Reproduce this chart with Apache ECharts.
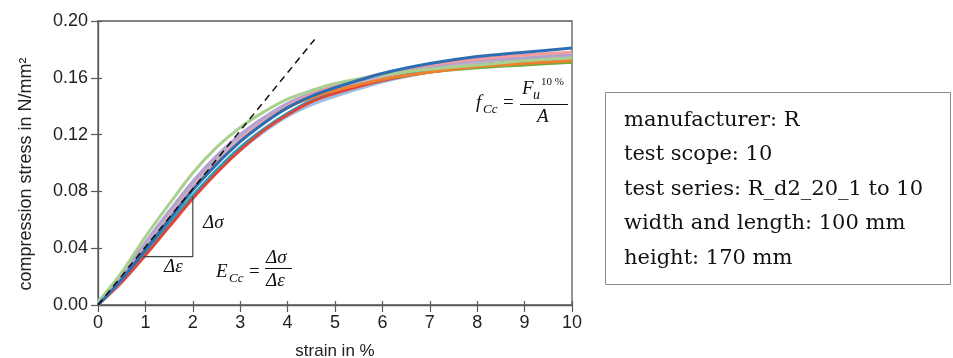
<!DOCTYPE html>
<html>
<head>
<meta charset="utf-8">
<script src="https://cdn.jsdelivr.net/npm/echarts@6/dist/echarts.min.js"></script>
<style>
  html, body { margin: 0; padding: 0; background: #fff; }
  #chart { width: 953px; height: 358px; }
</style>
</head>
<body>
<div id="chart"></div>
<script>
// strain sample points in %
const strain = [0, 0.5, 1, 1.5, 2, 2.5, 3, 3.5, 4, 4.5, 5, 6, 7, 8, 9, 10];

// compression stress (N/mm²) for the ten specimens R_d2_20_1 … R_d2_20_10
const specimenNames = ['R_d2_20_1', 'R_d2_20_2', 'R_d2_20_3', 'R_d2_20_4', 'R_d2_20_5',
                       'R_d2_20_6', 'R_d2_20_7', 'R_d2_20_8', 'R_d2_20_9', 'R_d2_20_10'];
const s1  = [0.003, 0.018, 0.038, 0.057, 0.077, 0.094, 0.109, 0.122, 0.133, 0.141, 0.147, 0.157, 0.164, 0.169, 0.172, 0.175];
const s2  = [0.000, 0.017, 0.037, 0.057, 0.077, 0.095, 0.111, 0.124, 0.135, 0.144, 0.150, 0.159, 0.165, 0.169, 0.172, 0.173];
const s3  = [0.000, 0.016, 0.035, 0.055, 0.075, 0.093, 0.109, 0.123, 0.134, 0.143, 0.149, 0.158, 0.164, 0.168, 0.171, 0.173];
const s4  = [0.000, 0.020, 0.043, 0.064, 0.085, 0.103, 0.118, 0.130, 0.140, 0.147, 0.152, 0.159, 0.164, 0.167, 0.169, 0.171];
const s5  = [0.000, 0.019, 0.041, 0.063, 0.084, 0.102, 0.117, 0.129, 0.139, 0.146, 0.151, 0.159, 0.164, 0.168, 0.170, 0.172];
const s6  = [0.001, 0.019, 0.042, 0.063, 0.084, 0.102, 0.118, 0.131, 0.141, 0.148, 0.153, 0.161, 0.167, 0.171, 0.174, 0.176];
const s7  = [0.001, 0.021, 0.044, 0.066, 0.087, 0.105, 0.120, 0.132, 0.142, 0.149, 0.154, 0.162, 0.168, 0.172, 0.174, 0.176];
const s8  = [0.000, 0.018, 0.040, 0.061, 0.082, 0.100, 0.116, 0.129, 0.140, 0.148, 0.154, 0.163, 0.169, 0.173, 0.176, 0.178];
const s9  = [0.002, 0.023, 0.048, 0.071, 0.093, 0.111, 0.125, 0.136, 0.145, 0.151, 0.156, 0.162, 0.166, 0.169, 0.172, 0.174];
const s10 = [0.000, 0.018, 0.039, 0.060, 0.081, 0.099, 0.115, 0.128, 0.139, 0.147, 0.153, 0.163, 0.170, 0.175, 0.178, 0.181];
const specimens = [s1, s2, s3, s4, s5, s6, s7, s8, s9, s10];
const specimenColors = ['#9dbfe4', '#1fa3b8', '#e0453c', '#6aab3f', '#f08030',
                        '#c8b2c8', '#b3a2d0', '#ef9c9c', '#a9d08e', '#2c6db3'];

// initial tangent used for the modulus E_Cc
const tangentStrain = [0, 4.57];
const tangentStress = [0, 0.187];

// slope triangle Δε / Δσ
const triStrain = [0.95, 2, 2];
const triStress = [0.034, 0.034, 0.0765];

// axis ticks
const xTicks = [0, 1, 2, 3, 4, 5, 6, 7, 8, 9, 10];
const yTicks = ['0.00', '0.04', '0.08', '0.12', '0.16', '0.20'];

const infoLines = [
  'manufacturer: R',
  'test scope: 10',
  'test series: R_d2_20_1 to 10',
  'width and length: 100 mm',
  'height: 170 mm'
];

const chart = echarts.init(document.getElementById('chart'), null, { renderer: 'canvas' });

const axisColor = '#595959';
const sans = 'Liberation Sans, Arial, sans-serif';
const serif = 'Liberation Serif, DejaVu Serif, serif';
const boxSerif = 'DejaVu Serif, Liberation Serif, serif';

const series = specimens.map((ys, k) => ({
  name: specimenNames[k],
  type: 'line',
  data: strain.map((x, i) => [x, ys[i]]),
  smooth: 0.3,
  showSymbol: false,
  lineStyle: { color: specimenColors[k], width: 3 },
  z: 2 + k
}));

series.push({
  name: 'tangent',
  type: 'line',
  data: tangentStrain.map((x, i) => [x, tangentStress[i]]),
  showSymbol: false,
  lineStyle: { color: '#111', width: 1.5, type: [7, 5] },
  z: 20
});
series.push({
  name: 'triangle',
  type: 'line',
  data: triStrain.map((x, i) => [x, triStress[i]]),
  showSymbol: false,
  lineStyle: { color: '#444', width: 1.2 },
  z: 20
});

const option = {
  animation: false,
  backgroundColor: '#fff',
  grid: {
    left: 98, right: 381, top: 21, bottom: 53,
    outerBoundsMode: 'none', containLabel: false,
    show: true, borderColor: axisColor, borderWidth: 1.3
  },
  xAxis: [{
    type: 'value', min: 0, max: 10, interval: 1,
    name: 'strain in %', nameLocation: 'middle', nameGap: 38,
    nameTextStyle: { fontFamily: sans, fontSize: 17, color: '#222' },
    axisLine: { show: true, lineStyle: { color: axisColor, width: 1.3 } },
    axisTick: { show: true, inside: false, length: 7, lineStyle: { color: axisColor, width: 1.2 } },
    axisLabel: { fontFamily: sans, fontSize: 18, color: '#222', margin: 9,
                 formatter: v => String(xTicks[Math.round(v)]) },
    splitLine: { show: false }
  }, {
    type: 'value', min: 0, max: 10, interval: 1, position: 'bottom',
    axisLine: { show: false },
    axisTick: { show: true, inside: true, length: 4, lineStyle: { color: axisColor, width: 1.2 } },
    axisLabel: { show: false }, splitLine: { show: false }
  }],
  yAxis: [{
    type: 'value', min: 0, max: 0.2, interval: 0.04,
    name: 'compression stress in N/mm²', nameLocation: 'middle', nameGap: 63,
    nameTextStyle: { fontFamily: sans, fontSize: 18, color: '#222', padding: [0, 22, 0, 0] },
    axisLine: { show: true, lineStyle: { color: axisColor, width: 1.3 } },
    axisTick: { show: true, inside: false, length: 7, lineStyle: { color: axisColor, width: 1.2 } },
    axisLabel: { fontFamily: sans, fontSize: 18, color: '#222', margin: 10,
                 formatter: v => yTicks[Math.round(v / 0.04)] },
    splitLine: { show: false }
  }, {
    type: 'value', min: 0, max: 0.2, interval: 0.04, position: 'left',
    axisLine: { show: false },
    axisTick: { show: true, inside: true, length: 4, lineStyle: { color: axisColor, width: 1.2 } },
    axisLabel: { show: false }, splitLine: { show: false }
  }],
  series: series,
  graphic: [
    // Δσ and Δε beside the slope triangle
    { type: 'text', left: 203, top: 213, z: 30,
      style: { text: 'Δσ', font: 'italic 19px ' + serif, fill: '#111' } },
    { type: 'text', left: 164, top: 257, z: 30,
      style: { text: 'Δε', font: 'italic 19px ' + serif, fill: '#111' } },
    // E_Cc = Δσ / Δε
    { type: 'text', left: 216, top: 262, z: 30,
      style: { text: 'E', font: 'italic 19px ' + serif, fill: '#111' } },
    { type: 'text', left: 229, top: 272, z: 30,
      style: { text: 'Cc', font: 'italic 13px ' + serif, fill: '#111' } },
    { type: 'text', left: 249, top: 263, z: 30,
      style: { text: '=', font: '19px ' + serif, fill: '#111' } },
    { type: 'text', left: 266, top: 248, z: 30,
      style: { text: 'Δσ', font: 'italic 19px ' + serif, fill: '#111' } },
    { type: 'line', z: 30, shape: { x1: 265, y1: 268.5, x2: 292, y2: 268.5 },
      style: { stroke: '#111', lineWidth: 1 } },
    { type: 'text', left: 266, top: 271, z: 30,
      style: { text: 'Δε', font: 'italic 19px ' + serif, fill: '#111' } },
    // f_Cc = F_u^10% / A
    { type: 'text', left: 476, top: 93, z: 30,
      style: { text: 'f', font: 'italic 19px ' + serif, fill: '#111' } },
    { type: 'text', left: 483, top: 103, z: 30,
      style: { text: 'Cc', font: 'italic 13px ' + serif, fill: '#111' } },
    { type: 'text', left: 503, top: 94, z: 30,
      style: { text: '=', font: '19px ' + serif, fill: '#111' } },
    { type: 'text', left: 522, top: 79, z: 30,
      style: { text: 'F', font: 'italic 19px ' + serif, fill: '#111' } },
    { type: 'text', left: 533, top: 88, z: 30,
      style: { text: 'u', font: 'italic 14px ' + serif, fill: '#111' } },
    { type: 'text', left: 541, top: 77, z: 30,
      style: { text: '10 %', font: '11px ' + serif, fill: '#111' } },
    { type: 'line', z: 30, shape: { x1: 520, y1: 104.5, x2: 568, y2: 104.5 },
      style: { stroke: '#111', lineWidth: 1 } },
    { type: 'text', left: 537, top: 107, z: 30,
      style: { text: 'A', font: 'italic 19px ' + serif, fill: '#111' } },
    // specimen information box
    { type: 'rect', z: 30, shape: { x: 605.5, y: 92.5, width: 345, height: 192 },
      style: { fill: '#fff', stroke: '#8a8a8a', lineWidth: 1 } },
    { type: 'text', left: 624, top: 103, z: 31,
      style: { text: infoLines.join('\n'), font: '21px ' + boxSerif, lineHeight: 34.5, fill: '#111' } }
  ]
};

chart.setOption(option);
</script>
</body>
</html>
